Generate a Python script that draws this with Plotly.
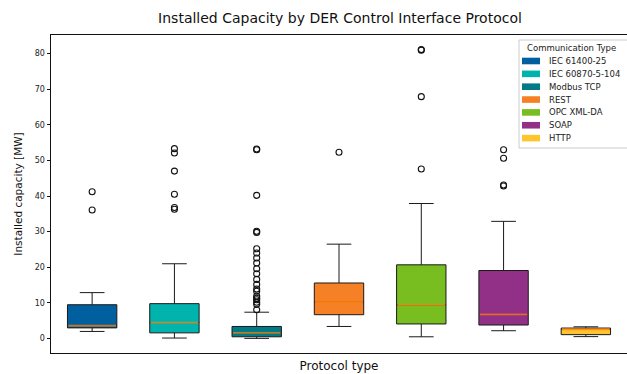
import plotly.graph_objects as go

protocols = ["IEC 61400-25", "IEC 60870-5-104", "Modbus TCP", "REST", "OPC XML-DA", "SOAP", "HTTP"]
colors = ["#005f9e", "#00b3ad", "#007a87", "#f58025", "#78be20", "#923088", "#ffc42e"]

q1 = [3.0, 1.6, 0.5, 6.7, 4.1, 3.8, 1.1]
median = [3.6, 4.5, 1.6, 10.2, 9.5, 6.8, 2.6]
q3 = [9.5, 9.8, 3.4, 15.6, 20.7, 19.1, 2.95]
lowerfence = [2.0, 0.15, 0.05, 3.4, 0.5, 2.2, 0.55]
upperfence = [12.9, 21.0, 7.4, 26.5, 37.9, 32.9, 3.3]

outliers = [
    [41.2, 36.1],
    [53.3, 52.1, 47.0, 40.5, 36.8, 36.3],
    [53.2, 53.0, 40.2, 30.1, 29.8, 25.2, 24.0, 22.6, 21.2, 19.6, 18.2, 16.6,
     15.2, 13.9, 13.3, 11.9, 11.3, 10.9, 10.2, 9.6, 8.1],
    [52.3],
    [81.1, 80.9, 67.9, 47.6],
    [53.0, 50.6, 43.1, 42.8],
    [],
]

W, H = 627, 374
L, R, T, B = 51, 0, 35, 21
PW, PH = W - L - R, H - T - B


def px(x):
    return (x - L) / PW


def py(y):
    return (H - B - y) / PH


def hex_rgb(h):
    h = h.lstrip("#")
    return tuple(int(h[i:i + 2], 16) for i in (0, 2, 4))


def blend(fg, bg, a):
    f, b = hex_rgb(fg), hex_rgb(bg)
    return "rgb(%d,%d,%d)" % tuple(round(a * f[k] + (1 - a) * b[k]) for k in range(3))


fig = go.Figure()
box_w = 0.6
for i, name in enumerate(protocols):
    fig.add_trace(go.Box(
        x=[i], q1=[q1[i]], median=[median[i]], q3=[q3[i]],
        lowerfence=[lowerfence[i]], upperfence=[upperfence[i]],
        width=box_w, whiskerwidth=0.5, fillcolor=colors[i],
        line=dict(color="#1a1a1a", width=1), name=name, showlegend=False,
        boxpoints=False, hoverinfo="skip",
    ))
    fig.add_trace(go.Scatter(
        x=[i - box_w / 2 + 0.01, i + box_w / 2 - 0.01], y=[median[i], median[i]],
        mode="lines", line=dict(color=blend("#ff7f0e", colors[i], 0.75), width=1.8),
        showlegend=False, hoverinfo="skip",
    ))
    if outliers[i]:
        fig.add_trace(go.Scatter(
            x=[i] * len(outliers[i]), y=outliers[i], mode="markers",
            marker=dict(symbol="circle-open", size=6, color="#111",
                        line=dict(width=1.1, color="#111")),
            showlegend=False, hoverinfo="skip",
        ))

shapes = []
annotations = []
# legend frame
shapes.append(dict(type="rect", xref="paper", yref="paper",
                   x0=px(519), x1=px(632), y0=py(148), y1=py(40),
                   line=dict(color="#cccccc", width=1), fillcolor="rgba(255,255,255,0.85)",
                   layer="above"))
annotations.append(dict(xref="paper", yref="paper", x=px(571), y=py(47.5),
                        text="Communication Type", showarrow=False,
                        xanchor="center", yanchor="middle",
                        font=dict(size=8.5, color="#222")))
for k, name in enumerate(protocols):
    yc = 61 + k * 12.85
    shapes.append(dict(type="rect", xref="paper", yref="paper",
                       x0=px(522), x1=px(540), y0=py(yc + 3.3), y1=py(yc - 3.3),
                       line=dict(width=0), fillcolor=colors[k], layer="above"))
    annotations.append(dict(xref="paper", yref="paper", x=px(547), y=py(yc),
                            text=name, showarrow=False, xanchor="left", yanchor="middle",
                            font=dict(size=8.5, color="#222")))

fig.update_layout(
    width=W, height=H,
    margin=dict(l=L, r=R, t=T, b=B, pad=0),
    paper_bgcolor="white", plot_bgcolor="white",
    font=dict(family="DejaVu Sans", color="#111"),
    title=dict(text="Installed Capacity by DER Control Interface Protocol",
               x=(340) / W, xanchor="center", y=1 - 18 / H, yanchor="middle",
               font=dict(size=14, color="#111")),
    boxmode="overlay",
    shapes=shapes, annotations=annotations,
    xaxis=dict(range=[-0.5, 6.5], showticklabels=False, ticks="", showgrid=False,
               zeroline=False, showline=True, mirror=True, linecolor="#111", linewidth=1,
               title=dict(text="Protocol type", font=dict(size=12), standoff=8)),
    yaxis=dict(range=[-4.05, 85.2], tickvals=[0, 10, 20, 30, 40, 50, 60, 70, 80],
               ticks="outside", ticklen=3.5, tickwidth=0.8, tickcolor="#111",
               tickfont=dict(size=8, color="#222"), showgrid=False, zeroline=False,
               showline=True, mirror=True, linecolor="#111", linewidth=1,
               title=dict(text="Installed capacity [MW]", font=dict(size=10.5), standoff=10)),
)

fig.write_html("out.html", config={"displayModeBar": False},
               post_script="document.body.style.margin='0';document.body.style.overflow='hidden';")
